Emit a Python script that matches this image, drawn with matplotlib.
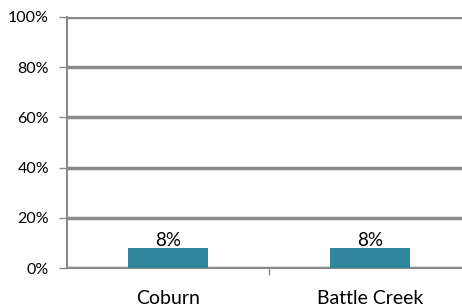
import matplotlib
matplotlib.use("Agg")
import matplotlib.pyplot as plt

categories = ["Coburn", "Battle Creek"]
values = [8, 8]
yticks = [0, 20, 40, 60, 80, 100]
ytick_labels = ["0%", "20%", "40%", "60%", "80%", "100%"]

plt.rcParams['font.family'] = ['Lato', 'DejaVu Sans']

fig = plt.figure(figsize=(4.62, 3.07), dpi=100)
W, H = 462, 307
ax = fig.add_axes([67 / W, (H - 268) / H, (471 - 67) / W, (268 - 17) / H])

x = list(range(len(categories)))
bars = ax.bar(x, values, width=0.4, color="#31859C", zorder=3)
for xi, v in zip(x, values):
    ax.text(xi, v - 0.6, f"{v}%", ha="center", va="bottom", fontsize=13.5, color="#000000", zorder=4)

ax.set_xlim(-0.5, len(categories) - 0.5)
ax.set_ylim(0, 100)
ax.set_yticks(yticks)
ax.set_yticklabels(ytick_labels, fontsize=11.5)
ax.set_xticks(x)
ax.set_xticklabels(categories, fontsize=14)
ax.tick_params(axis="x", length=0, pad=16)
ax.set_xticks([0.5], minor=True)
ax.tick_params(axis="x", which="minor", length=5, color="#8a8a8a", width=1)
ax.tick_params(axis="y", length=6, color="#8a8a8a", width=1, pad=7)

ax.grid(axis="y", color="#8a8a8a", linewidth=2.5, zorder=0)
for s in ["top", "right"]:
    ax.spines[s].set_visible(False)
ax.spines["left"].set_color("#8a8a8a")
ax.spines["left"].set_linewidth(1.5)
ax.spines["bottom"].set_color("#8a8a8a")
ax.spines["bottom"].set_linewidth(1.5)

fig.savefig("out.png", dpi=100)
